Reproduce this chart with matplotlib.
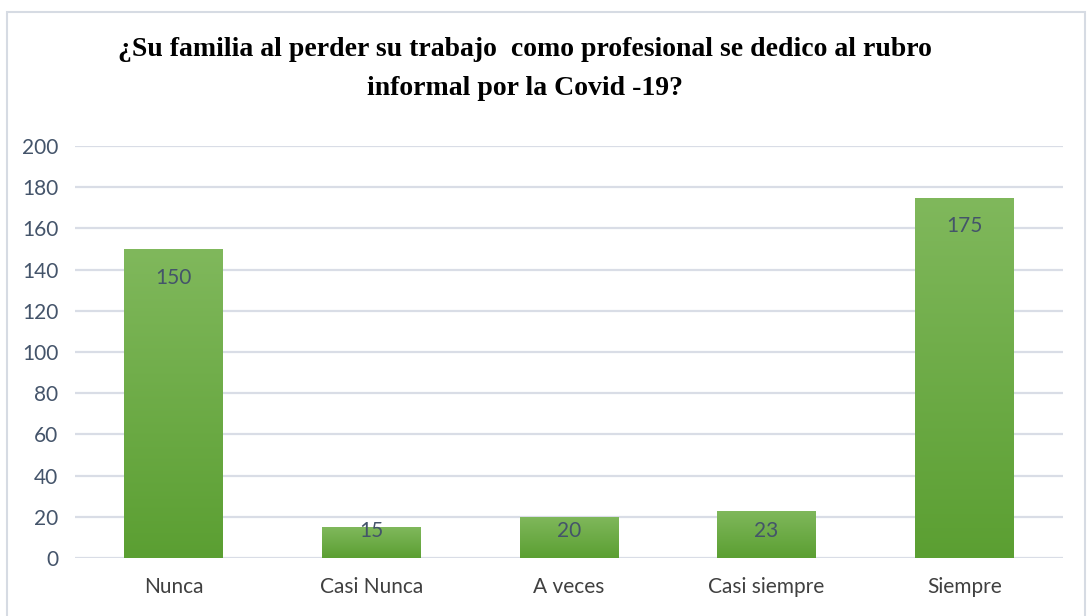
import numpy as np
import matplotlib.pyplot as plt
from matplotlib.colors import LinearSegmentedColormap
from matplotlib.patches import Rectangle

categorias = ["Nunca", "Casi Nunca", "A veces", "Casi siempre", "Siempre"]
valores = [150, 15, 20, 23, 175]
ticks_y = [0, 20, 40, 60, 80, 100, 120, 140, 160, 180, 200]
titulo = "¿Su familia al perder su trabajo  como profesional se dedico al rubro\ninformal por la Covid -19?"

fuente = "Lato"

fig = plt.figure(figsize=(10.89, 6.16), dpi=100)
fig.patches.append(Rectangle((0.006, -0.01), 0.99, 0.99, transform=fig.transFigure,
                             fill=False, edgecolor="#d6dbe3", lw=1.5))
ax = fig.add_axes([75/1089, 1-558/616, (1063-75)/1089, (558-146)/616])

x = np.arange(len(categorias))
bars = ax.bar(x, valores, width=0.5, color="#70ad47", zorder=2)

cmap = LinearSegmentedColormap.from_list("verde", ["#5b9f32", "#80b85c"])
grad = np.linspace(0, 1, 256).reshape(-1, 1)
for b in bars:
    x0, w, h = b.get_x(), b.get_width(), b.get_height()
    im = ax.imshow(grad, cmap=cmap, origin="lower", aspect="auto",
                   extent=(x0, x0 + w, 0, h), zorder=3)
    im.set_clip_path(b)
    ax.text(x0 + w/2, max(h - 14, 13), str(h), ha="center", va="center", fontsize=15,
            color="#44546a", family=fuente, zorder=4)

ax.set_xlim(-0.5, 4.5)
ax.set_ylim(0, 200)
ax.set_yticks(ticks_y)
ax.set_xticks(x)
ax.set_xticklabels(categorias)
ax.grid(axis="y", color="#d9dde6", lw=1.6, zorder=0)
ax.set_axisbelow(True)
for s in ax.spines.values():
    s.set_visible(False)
ax.tick_params(length=0, labelsize=15, labelcolor="#404040", pad=14)
ax.tick_params(axis="y", labelcolor="#44546a", pad=12)
for lab in ax.get_xticklabels() + ax.get_yticklabels():
    lab.set_family(fuente)

fig.text(525/1089, 1-69/616, titulo, ha="center", va="center", fontsize=20,
         fontweight="bold", family="Liberation Serif", linespacing=1.75)

fig.savefig("out.png", dpi=100)
